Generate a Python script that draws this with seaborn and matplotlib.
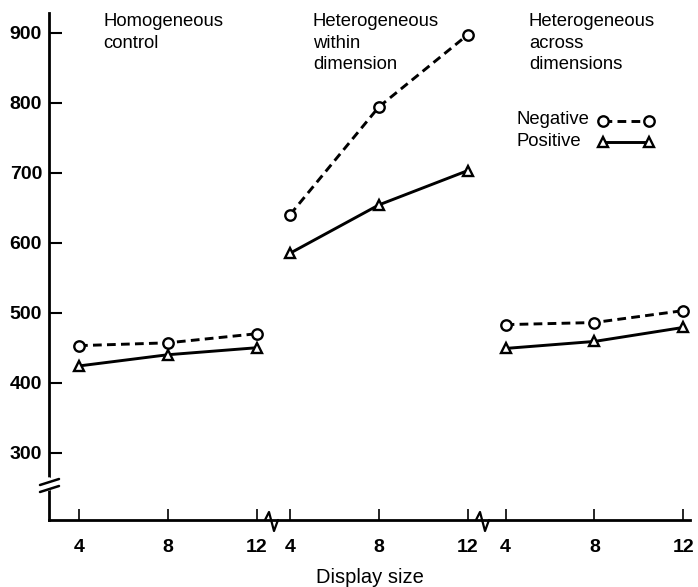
import numpy as np
import pandas as pd
import matplotlib
matplotlib.use("Agg")
import matplotlib.pyplot as plt
import seaborn as sns
from matplotlib.lines import Line2D

# ---------------- data ----------------
display_sizes = [4, 8, 12]
conditions = ["Homogeneous\ncontrol",
              "Heterogeneous\nwithin\ndimension",
              "Heterogeneous\nacross\ndimensions"]
negative_rt = [[453, 457, 470], [640, 794, 897], [483, 486, 503]]
positive_rt = [[424, 440, 450], [585, 654, 703], [449, 459, 479]]
series_names = ["Negative", "Positive"]
y_ticks = [300, 400, 500, 600, 700, 800, 900]
x_label = "Display size"

# layout (not data)
group_offset = [0, 9.5, 19.2]

rows = []
for gi, cond in enumerate(conditions):
    for si, size in enumerate(display_sizes):
        rows.append(dict(condition=cond, size=size, pos=size + group_offset[gi],
                         series="Negative", rt=negative_rt[gi][si]))
        rows.append(dict(condition=cond, size=size, pos=size + group_offset[gi],
                         series="Positive", rt=positive_rt[gi][si]))
df = pd.DataFrame(rows)

sns.set_style("ticks")
plt.rcParams["font.family"] = ["Liberation Sans", "DejaVu Sans"]
for k in ["text.color", "axes.labelcolor", "xtick.color", "ytick.color",
          "axes.edgecolor", "xtick.labelcolor", "ytick.labelcolor"]:
    plt.rcParams[k] = "black"

W, H = 698, 587
fig = plt.figure(figsize=(W / 100, H / 100), dpi=100)
ax = fig.add_axes([49 / W, 1 - 520 / H, (690 - 49) / W, (520 - 13) / H])

def px(x, y):
    return x / W, 1 - y / H

styles = {
    "Negative": dict(linestyle=(0, (3, 1.8)), marker="o", markersize=7.5),
    "Positive": dict(linestyle="-", marker="^", markersize=7),
}
for gi, cond in enumerate(conditions):
    for series, st in styles.items():
        sub = df[(df.condition == cond) & (df.series == series)]
        sns.lineplot(data=sub, x="pos", y="rt", ax=ax, color="black",
                     linewidth=2.1, markerfacecolor="white", markeredgecolor="black",
                     markeredgewidth=1.7, legend=False, estimator=None, sort=True,
                     **st)

ax.set_ylim(204, 928)
ax.set_xlim(2.65, 31.5)
ax.set_yticks(y_ticks)
ax.set_yticklabels([str(v) for v in y_ticks], fontsize=14, fontweight="bold")
xpos = [s + o for o in group_offset for s in display_sizes]
ax.set_xticks(xpos)
ax.set_xticklabels([str(s) for o in group_offset for s in display_sizes],
                   fontsize=14, fontweight="bold")
ax.tick_params(axis="y", direction="in", length=9, width=1.5, pad=5, colors="black")
ax.tick_params(axis="x", direction="in", length=8, width=1.2, pad=14, colors="black")
ax.set_xlabel(x_label, fontsize=14.5, labelpad=8, color="black")
ax.set_ylabel("")
for s in ["top", "right"]:
    ax.spines[s].set_visible(False)
for s in ["left", "bottom"]:
    ax.spines[s].set_linewidth(2)
    ax.spines[s].set_color("black")

# group titles
for xp, cond in zip([103, 313, 529], conditions):
    fig.text(*px(xp, 13), cond, ha="left", va="top", fontsize=13.3,
             linespacing=1.35, color="black")

# legend (drawn as key: label on the left, line sample on the right)
for name, yl in zip(series_names, [120, 141]):
    fig.text(*px(516, yl), name, ha="left", va="center", fontsize=13.3, color="black")
    (x0, y0), (x1, _) = px(603, yl + 1), px(649, yl + 1)
    fig.add_artist(Line2D([x0, x1], [y0, y0], color="black", lw=2.1,
                          markerfacecolor="white", markeredgecolor="black",
                          markeredgewidth=1.7, transform=fig.transFigure,
                          **styles[name]))

# y-axis break
fig.add_artist(Line2D([px(49, 0)[0]] * 2, [px(0, 480)[1], px(0, 488)[1]],
                      color="white", lw=4, transform=fig.transFigure))
for yb in [482, 489]:
    x0, y0 = px(40, yb + 3)
    x1, y1 = px(59, yb - 3)
    fig.add_artist(Line2D([x0, x1], [y0, y1], color="black", lw=1.8,
                          transform=fig.transFigure))

# x-axis breaks
for xb in [273, 484]:
    pts = [px(xb - 8, 520), px(xb - 4, 512), px(xb + 1, 531), px(xb + 5, 520)]
    fig.add_artist(Line2D([p[0] for p in pts], [p[1] for p in pts], color="black",
                          lw=1.6, transform=fig.transFigure))

fig.savefig("out.png", dpi=100)
